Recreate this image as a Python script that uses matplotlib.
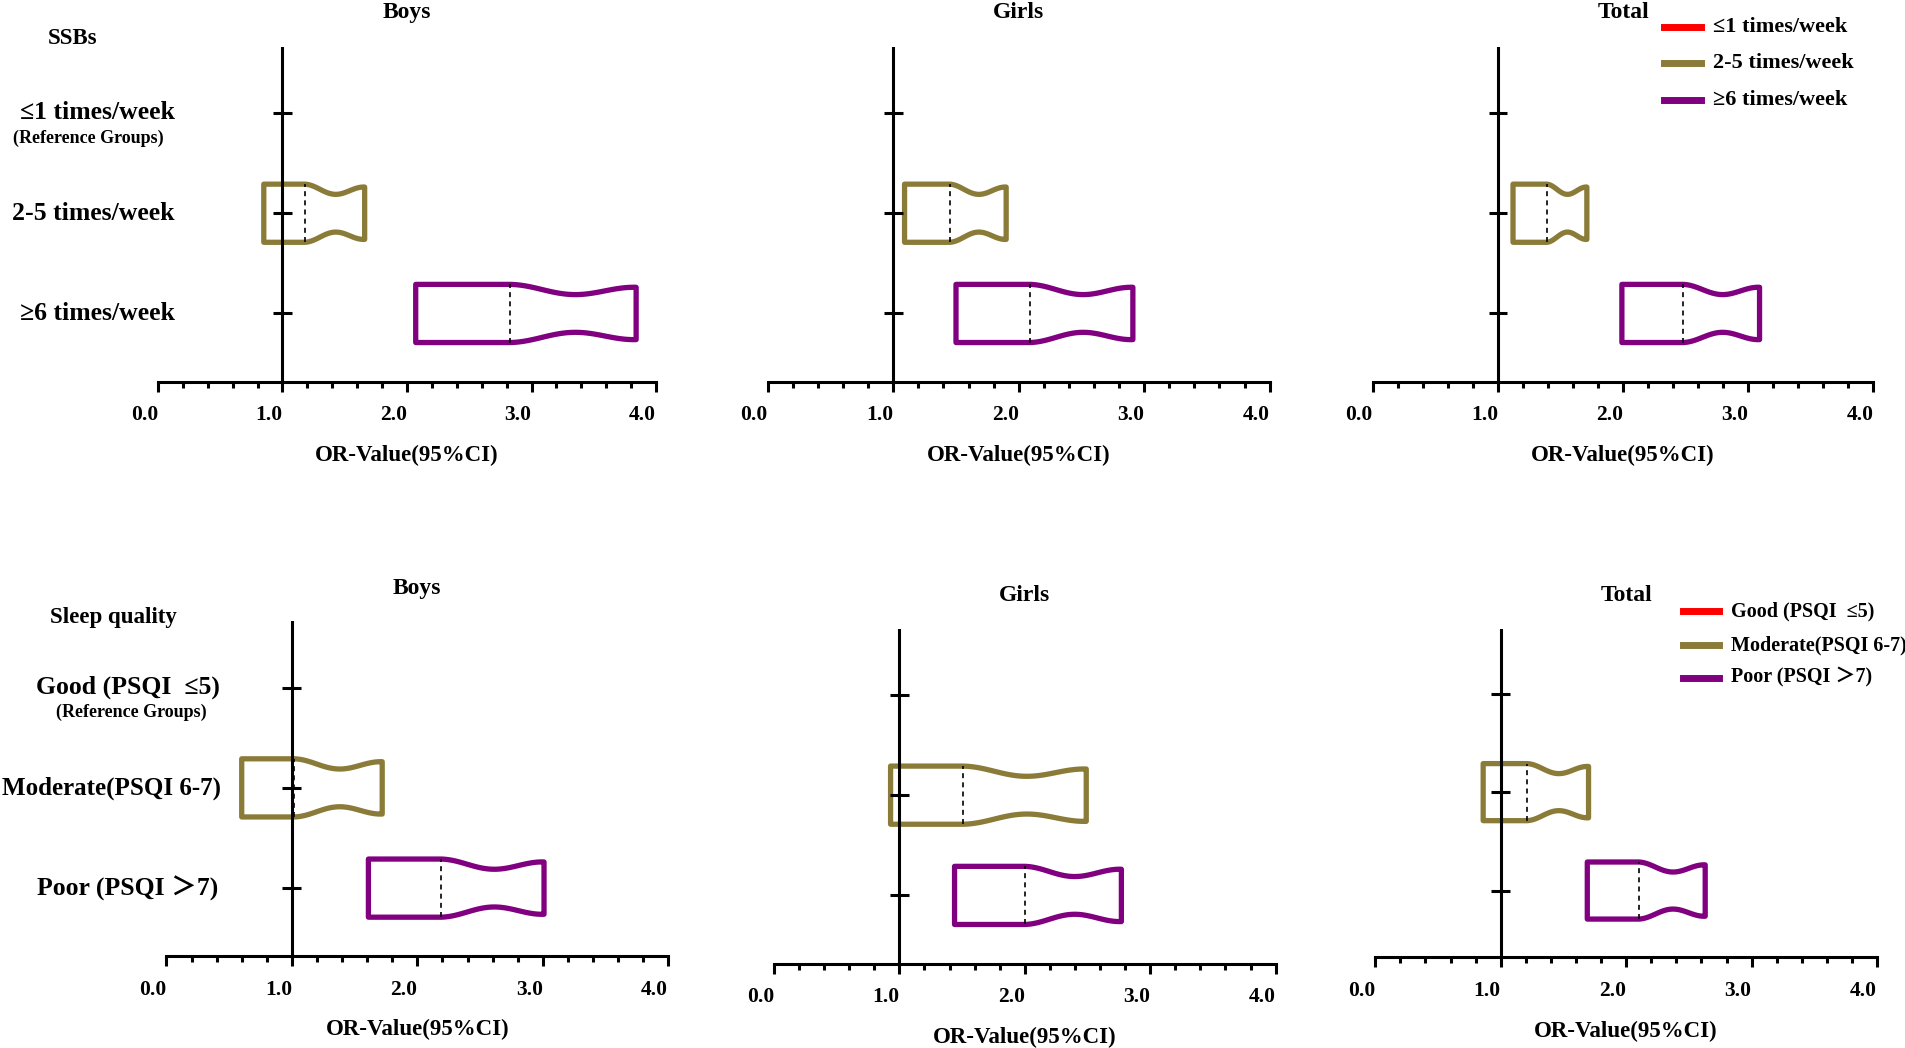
import numpy as np
import matplotlib
matplotlib.use('Agg')
import matplotlib.pyplot as plt
from matplotlib.patches import Polygon
from matplotlib.lines import Line2D
from matplotlib.ticker import MultipleLocator
from matplotlib.transforms import blended_transform_factory

plt.rcParams['font.family'] = ['Liberation Serif', 'Noto Sans CJK SC', 'DejaVu Sans']
plt.rcParams['font.weight'] = 'bold'

panels = ['Boys', 'Girls', 'Total']
colors = ['#ff0000', '#8b7b38', '#800080']

# SSBs, rows = Boys / Girls / Total, cols = <=1 (reference), 2-5, >=6
ssb_labels = ['≤1 times/week', '2-5 times/week', '≥6 times/week']
ssb_or = [[1.0, 1.18, 2.83], [1.0, 1.45, 2.09], [1.0, 1.39, 2.48]]
ssb_lo = [[1.0, 0.85, 2.07], [1.0, 1.09, 1.50], [1.0, 1.12, 1.99]]
ssb_hi = [[1.0, 1.66, 3.84], [1.0, 1.90, 2.91], [1.0, 1.71, 3.09]]

# sleep quality, same layout
sleep_labels = ['Good (PSQI  ≤5)', 'Moderate(PSQI 6-7)', 'Poor (PSQI ＞7)']
sleep_or = [[1.0, 1.02, 2.19], [1.0, 1.51, 2.00], [1.0, 1.21, 2.10]]
sleep_lo = [[1.0, 0.60, 1.61], [1.0, 0.93, 1.44], [1.0, 0.86, 1.69]]
sleep_hi = [[1.0, 1.72, 3.01], [1.0, 2.49, 2.77], [1.0, 1.70, 2.63]]

# layout measured on the reference (px of a 1568 wide copy)
W, H = 1568.0, 862.6
YLIM = (0.32, 3.66)
top_layout = [(130, 540, 93, 258), (632, 1045, 93, 258), (1130, 1542, 93, 258)]
bot_layout = [(137, 550, 566, 731), (637, 1050, 572, 737), (1132, 1545, 571, 733)]


def fx(px):
    return px / W


def fy(py):
    return 1 - py / H


def make_ax(fig, x0, x4, p3, p1):
    s = (p1 - p3) / 2
    bottom = p1 + (1 - YLIM[0]) * s
    top = p3 - (YLIM[1] - 3) * s
    ax = fig.add_axes([fx(x0), fy(bottom), fx(x4) - fx(x0), (bottom - top) / H])
    ax.set_xlim(0, 4)
    ax.set_ylim(*YLIM)
    for sp in ['top', 'right', 'left']:
        ax.spines[sp].set_visible(False)
    ax.spines['bottom'].set_linewidth(2.2)
    ax.set_yticks([])
    ax.set_xticks([0, 1, 2, 3, 4])
    ax.set_xticklabels(['0.0', '1.0', '2.0', '3.0', '4.0'], ha='right')
    ax.xaxis.set_minor_locator(MultipleLocator(0.2))
    ax.tick_params(axis='x', which='major', length=7, width=2.2, labelsize=15.5, pad=10)
    ax.tick_params(axis='x', which='minor', length=4, width=2.2)
    ax.set_xlabel('OR-Value(95%CI)', fontsize=16.5, fontweight='bold', labelpad=14)
    ax.axvline(1, color='k', lw=2.2)
    return ax


def notch_box(ax, lo, orv, hi, y, color, h=0.29):
    t = np.linspace(0, 1, 80)
    xr = orv + (hi - orv) * t
    hr = h * (1 - 0.3 * np.sin(np.pi * t) ** 2 - 0.1 * t)
    xs = np.r_[lo, xr, xr[::-1], lo]
    ys = np.r_[y + h, y + hr, y - hr[::-1], y - h]
    ax.add_patch(Polygon(np.c_[xs, ys], closed=True, fill=False, ec=color,
                         lw=3.8, joinstyle='round'))
    ax.plot([orv, orv], [y - h, y + h], color='k', lw=1.2, ls=(0, (3, 2.5)))


def draw_panel(ax, title, lo, orv, hi, pad):
    for i in range(3):
        y = 3 - i
        ax.plot([0.925, 1.075], [y, y], color='k', lw=2.2, solid_capstyle='butt')
        if hi[i] > lo[i]:
            notch_box(ax, lo[i], orv[i], hi[i], y, colors[i])
    ax.set_title(title, fontsize=17, fontweight='bold', pad=pad)


def legend(fig, labels, rows, hx, tx, size):
    for i in range(3):
        fig.add_artist(Line2D([fx(hx[0]), fx(hx[1])], [fy(rows[i]), fy(rows[i])],
                              color=colors[i], lw=5, transform=fig.transFigure))
        fig.text(fx(tx), fy(rows[i]), labels[i], va='center', fontsize=size)


fig = plt.figure(figsize=(19.05, 10.48), dpi=100)

# top row: SSBs
for k in range(3):
    ax = make_ax(fig, *top_layout[k])
    draw_panel(ax, panels[k], ssb_lo[k], ssb_or[k], ssb_hi[k], pad=21)
    if k == 0:
        trans = blended_transform_factory(fig.transFigure, ax.transData)
        for i, cx in enumerate([80, 77, 80]):
            ax.text(fx(cx), 3 - i, ssb_labels[i], transform=trans, ha='center',
                    va='center', fontsize=18.5)
        ax.text(fx(73), 3 - 0.25, '(Reference Groups)', transform=trans,
                ha='center', va='center', fontsize=13)

# bottom row: sleep quality
for k in range(3):
    ax = make_ax(fig, *bot_layout[k])
    draw_panel(ax, panels[k], sleep_lo[k], sleep_or[k], sleep_hi[k], pad=20)
    if k == 0:
        trans = blended_transform_factory(fig.transFigure, ax.transData)
        for i, cx in enumerate([105, 92, 105]):
            ax.text(fx(cx), 3 - i, sleep_labels[i], transform=trans, ha='center',
                    va='center', fontsize=18 if i == 1 else 18.5)
        ax.text(fx(108), 3 - 0.25, '(Reference Groups)', transform=trans,
                ha='center', va='center', fontsize=13)

fig.text(fx(60), fy(32), 'SSBs', ha='center', va='center', fontsize=16.5)
fig.text(fx(93), fy(508), 'Sleep quality', ha='center', va='center', fontsize=16.5)

legend(fig, ssb_labels, [22, 52, 82], (1370, 1400), 1410, 16)
legend(fig, sleep_labels, [503, 531, 558], (1385, 1415), 1425, 14.5)

fig.savefig('out.png', dpi=100)
